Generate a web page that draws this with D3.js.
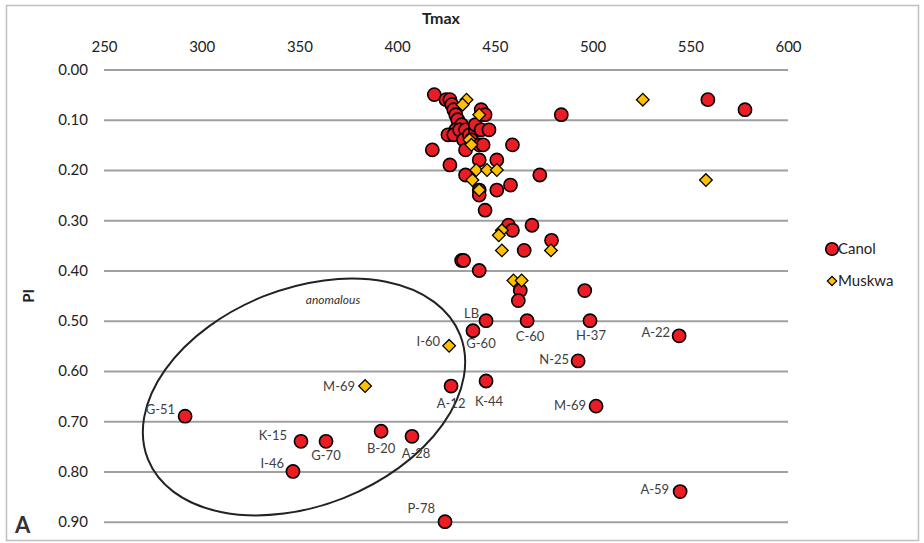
<!DOCTYPE html>
<html>
<head>
<meta charset="utf-8">
<script src="https://cdn.jsdelivr.net/npm/d3@7"></script>
<style>
  html, body { margin: 0; padding: 0; background: #fff; }
  svg { display: block; font-family: Lato, "Open Sans", sans-serif; }
</style>
</head>
<body>
<svg id="chart" width="924" height="543"></svg>
<script>
// ---------------- DATA ----------------
const xTicks = [250, 300, 350, 400, 450, 500, 550, 600];
const yTicks = [0.0, 0.1, 0.2, 0.3, 0.4, 0.5, 0.6, 0.7, 0.8, 0.9];

// Canol (unlabelled)
const canolTmax = [419, 425, 427, 428, 429, 430, 431, 433, 430, 426, 429, 432, 435, 434, 437, 440,
                   443, 445, 440, 443, 447, 438, 442, 444, 435, 418, 442, 451, 427, 435, 459, 484,
                   442, 442, 451, 458, 473, 445, 457, 459, 469, 479, 465, 433, 434, 442, 463, 462,
                   496, 559, 578];
const canolPI   = [0.05, 0.06, 0.06, 0.07, 0.08, 0.09, 0.10, 0.11, 0.12, 0.13, 0.13, 0.12, 0.12, 0.14, 0.13, 0.12,
                   0.08, 0.09, 0.11, 0.12, 0.12, 0.14, 0.15, 0.15, 0.16, 0.16, 0.18, 0.18, 0.19, 0.21, 0.15, 0.09,
                   0.24, 0.25, 0.24, 0.23, 0.21, 0.28, 0.31, 0.32, 0.31, 0.34, 0.36, 0.38, 0.38, 0.40, 0.44, 0.46,
                   0.44, 0.06, 0.08];

// Canol (labelled)
const canolLabNames = ["G-51", "K-15", "G-70", "B-20", "A-28", "I-46", "P-78", "G-60", "LB", "C-60",
                       "H-37", "A-22", "N-25", "K-44", "A-12", "M-69", "A-59"];
const canolLabTmax  = [291.5, 350.8, 363.6, 391.8, 407.6, 346.7, 424.5, 438.8, 445.5, 466.5,
                       498.7, 544.3, 492.6, 445.5, 427.6, 501.8, 544.8];
const canolLabPI    = [0.69, 0.74, 0.74, 0.72, 0.73, 0.80, 0.90, 0.52, 0.50, 0.50,
                       0.50, 0.53, 0.58, 0.62, 0.63, 0.67, 0.84];

// Muskwa (unlabelled)
const muskwaTmax = [525.7, 435.5, 433.5, 442, 437, 438, 440.5, 446, 451, 438.5, 442,
                    453.6, 452, 453.6, 478.7, 459.5, 463.7, 558];
const muskwaPI   = [0.06, 0.06, 0.07, 0.09, 0.14, 0.15, 0.20, 0.20, 0.20, 0.22, 0.24,
                    0.32, 0.33, 0.36, 0.36, 0.42, 0.42, 0.22];

// Muskwa (labelled)
const muskwaLabNames = ["I-60", "M-69"];
const muskwaLabTmax  = [426.6, 383.6];
const muskwaLabPI    = [0.55, 0.63];

const seriesNames = ["Canol", "Muskwa"];

// ---------------- LAYOUT / STYLE ----------------
const svg = d3.select("#chart");
const plot = { left: 104, right: 788, top: 69.5, bottom: 521.7 };
const RED = "#EC1C24", GOLD = "#FFC000";

// label offsets: [dx, dy, anchor]
const labelLayout = {
  "G-51": [-10, -7, "end"], "K-15": [-14, -6, "end"], "I-46": [-9, -8, "end"],
  "P-78": [-10, -13, "end"], "LB": [-7, -7, "end"], "A-22": [-9, -3, "end"],
  "A-59": [-11, -2, "end"], "N-25": [-9, -1, "end"], "M-69c": [-10, -1, "end"],
  "M-69m": [-10, 0, "end"], "I-60": [-9, -4, "end"],
  "G-70": [0, 14, "middle"], "B-20": [0, 17, "middle"], "A-28": [4, 17, "middle"],
  "A-12": [0, 17, "middle"], "G-60": [8, 13, "middle"], "C-60": [3, 16, "middle"],
  "H-37": [1, 15, "middle"], "K-44": [3, 20, "middle"]
};

const x = d3.scaleLinear().domain([250, 600]).range([plot.left, plot.right]);
const y = d3.scaleLinear().domain([0, 0.9]).range([plot.top, plot.bottom]);

// outer frame
svg.append("rect").attr("x", 6.5).attr("y", 5.5).attr("width", 912).attr("height", 535)
  .attr("fill", "#fff").attr("stroke", "#BFBFBF").attr("stroke-width", 1.5);

// horizontal gridlines via y axis
const yAxis = d3.axisLeft(y).tickValues(yTicks).tickFormat(d3.format(".2f"))
  .tickSize(-(plot.right - plot.left)).tickPadding(16);
const gy = svg.append("g").attr("transform", `translate(${plot.left},0)`).call(yAxis);
gy.select(".domain").remove();
gy.selectAll(".tick line").attr("stroke", "#A0A0A0").attr("stroke-width", 2);
gy.selectAll(".tick text").attr("fill", "#222").style("font-size", "15px")
  .style("font-family", "Lato, sans-serif");

// x axis on top, labels only
const xAxis = d3.axisTop(x).tickValues(xTicks).tickSize(0).tickPadding(0);
const gx = svg.append("g").attr("transform", `translate(0,52)`).call(xAxis);
gx.select(".domain").remove();
gx.selectAll(".tick text").attr("fill", "#222").style("font-size", "15px")
  .style("font-family", "Lato, sans-serif");

// axis titles
svg.append("text").attr("x", 441).attr("y", 24)
  .attr("text-anchor", "middle").attr("font-weight", "bold").attr("font-size", 16)
  .attr("fill", "#222").text("Tmax");
svg.append("text").attr("transform", "translate(34,296) rotate(-90)")
  .attr("text-anchor", "middle").attr("font-weight", "bold").attr("font-size", 15)
  .attr("fill", "#222").text("PI");
svg.append("text").attr("x", 15).attr("y", 533).attr("font-weight", "bold")
  .attr("font-size", 22).attr("fill", "#333").text("A");

// ellipse (anomalous)
svg.append("ellipse").attr("cx", 0).attr("cy", 0).attr("rx", 168).attr("ry", 108.5)
  .attr("transform", "translate(304,397) rotate(-21.7)")
  .attr("fill", "none").attr("stroke", "#222").attr("stroke-width", 2);
svg.append("text").attr("x", 333).attr("y", 304).attr("text-anchor", "middle")
  .attr("font-style", "italic").attr("font-size", 12).attr("fill", "#333").text("anomalous");

// markers
const diamond = d3.symbol().type(d3.symbolSquare).size(80)();
function drawCircles(tx, pi) {
  svg.append("g").selectAll("circle").data(tx.map((t, i) => [t, pi[i]])).join("circle")
    .attr("cx", d => x(d[0])).attr("cy", d => y(d[1])).attr("r", 6.6)
    .attr("fill", RED).attr("stroke", "#000").attr("stroke-width", 1.6);
}
function drawDiamonds(tx, pi) {
  svg.append("g").selectAll("path").data(tx.map((t, i) => [t, pi[i]])).join("path")
    .attr("d", diamond)
    .attr("transform", d => `translate(${x(d[0])},${y(d[1])}) rotate(45)`)
    .attr("fill", GOLD).attr("stroke", "#000").attr("stroke-width", 1.3);
}
drawCircles(canolTmax, canolPI);
drawCircles(canolLabTmax, canolLabPI);
drawDiamonds(muskwaTmax, muskwaPI);
drawDiamonds(muskwaLabTmax, muskwaLabPI);

// point labels
function drawLabels(names, tx, pi, suffix) {
  names.forEach((n, i) => {
    const lay = labelLayout[n] || labelLayout[n + suffix];
    svg.append("text").attr("x", x(tx[i]) + lay[0]).attr("y", y(pi[i]) + lay[1])
      .attr("dy", "0.35em").attr("text-anchor", lay[2])
      .attr("font-size", 13).attr("fill", "#404040").text(n);
  });
}
drawLabels(canolLabNames, canolLabTmax, canolLabPI, "c");
drawLabels(muskwaLabNames, muskwaLabTmax, muskwaLabPI, "m");

// legend
const leg = svg.append("g");
leg.append("circle").attr("cx", 832).attr("cy", 249).attr("r", 6.3)
  .attr("fill", RED).attr("stroke", "#000").attr("stroke-width", 1.6);
leg.append("path").attr("d", d3.symbol().type(d3.symbolSquare).size(44)())
  .attr("transform", "translate(832,281) rotate(45)")
  .attr("fill", GOLD).attr("stroke", "#000").attr("stroke-width", 1.2);
leg.selectAll("text").data(seriesNames).join("text")
  .attr("x", 838).attr("y", (d, i) => 249 + i * 32).attr("dy", "0.36em")
  .attr("font-size", 15).attr("fill", "#222").text(d => d);
</script>
</body>
</html>
